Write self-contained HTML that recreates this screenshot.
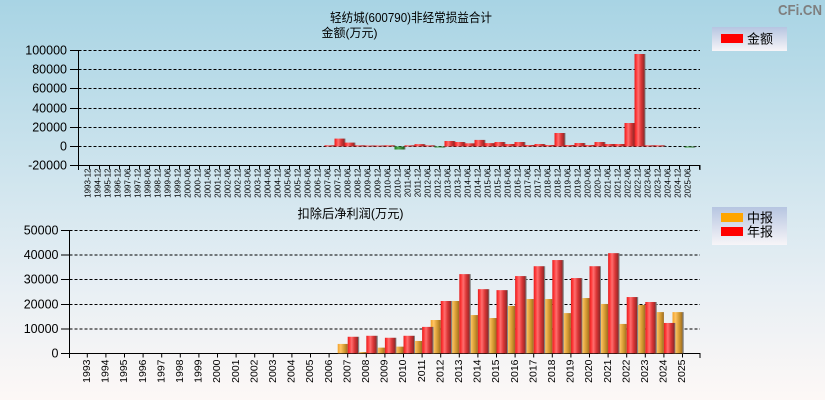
<!DOCTYPE html>
<html><head><meta charset="utf-8"><style>
html,body{margin:0;padding:0;width:825px;height:400px;overflow:hidden}
svg{display:block;font-family:"Liberation Sans","Noto Sans CJK SC",sans-serif}
.t8 text{font-size:8px;fill:#000}
.t10 text{font-size:10.5px;fill:#000}
</style></head><body>
<svg width="825" height="400" viewBox="0 0 825 400" xmlns="http://www.w3.org/2000/svg">
<defs>
<linearGradient id="bg" x1="0" y1="0" x2="0" y2="1">
<stop offset="0" stop-color="#a8d4e4"/><stop offset="0.45" stop-color="#d0e5ee"/><stop offset="0.72" stop-color="#e8eff4"/><stop offset="1" stop-color="#fdf8f6"/>
</linearGradient>
<linearGradient id="lg" x1="0" y1="0" x2="0" y2="1">
<stop offset="0" stop-color="#b6c5e1"/><stop offset="1" stop-color="#f7f5f8"/>
</linearGradient>
<linearGradient id="rd" x1="0" y1="0" x2="1" y2="0">
<stop offset="0" stop-color="#e02222"/><stop offset="0.14" stop-color="#ff3434"/><stop offset="0.34" stop-color="#ff6e6e"/><stop offset="0.6" stop-color="#dc3636"/><stop offset="0.9" stop-color="#902828"/><stop offset="0.91" stop-color="#7c7c7c"/><stop offset="1" stop-color="#8c8c8c"/>
</linearGradient>
<linearGradient id="or" x1="0" y1="0" x2="1" y2="0">
<stop offset="0" stop-color="#f2a22a"/><stop offset="0.3" stop-color="#ffc462"/><stop offset="0.7" stop-color="#d0962e"/><stop offset="1" stop-color="#9c6c22"/>
</linearGradient>
<linearGradient id="gr" x1="0" y1="0" x2="1" y2="0">
<stop offset="0" stop-color="#1c7a1c"/><stop offset="0.35" stop-color="#52b252"/><stop offset="0.9" stop-color="#1e5e1e"/><stop offset="0.91" stop-color="#7c7c7c"/><stop offset="1" stop-color="#8c8c8c"/>
</linearGradient>
</defs>
<rect x="0" y="0" width="825" height="400" fill="url(#bg)"/>

<text x="822" y="15" text-anchor="end" font-size="15" font-weight="bold" fill="#7f7f7f" textLength="44" lengthAdjust="spacingAndGlyphs">CFi.CN</text>

<!-- ===== TOP CHART ===== -->
<text x="330" y="22" font-size="12.5" fill="#000" textLength="162" lengthAdjust="spacingAndGlyphs">轻纺城(600790)非经常损益合计</text>
<text x="321.5" y="37" font-size="12" fill="#000">金额(万元)</text>

<g stroke="#000" stroke-width="1" stroke-dasharray="3 2" fill="none">
<line x1="78.5" y1="50.5" x2="700" y2="50.5"/>
<line x1="78.5" y1="69.5" x2="700" y2="69.5"/>
<line x1="78.5" y1="88.5" x2="700" y2="88.5"/>
<line x1="78.5" y1="108.5" x2="700" y2="108.5"/>
<line x1="78.5" y1="127.5" x2="700" y2="127.5"/>
<line x1="78.5" y1="146.5" x2="700" y2="146.5"/>
</g>
<g stroke="#000" stroke-width="1" fill="none">
<line x1="78.5" y1="50" x2="78.5" y2="166"/>
<line x1="78" y1="165.5" x2="700.5" y2="165.5"/>
<path d="M70 50.5H78.5M70 69.5H78.5M70 88.5H78.5M70 108.5H78.5M70 127.5H78.5M70 146.5H78.5M70 165.5H78.5M78.5 165.5V170M700 165.5V170"/>
<line x1="89" y1="167.5" x2="700" y2="167.5" stroke-width="4" stroke-dasharray="1 9"/>
</g>
<g font-size="12.5" fill="#000" text-anchor="end">
<text x="67" y="54.5">100000</text>
<text x="67" y="73.5">80000</text>
<text x="67" y="92.5">60000</text>
<text x="67" y="112.5">40000</text>
<text x="67" y="131.5">20000</text>
<text x="67" y="150.5">0</text>
<text x="67" y="169.5">-20000</text>
</g>

<g fill="url(#rd)">
<rect x="324.5" y="145.3" width="11" height="1.2"/>
<rect x="334.5" y="138.6" width="11" height="7.9"/>
<rect x="344.5" y="142.6" width="11" height="3.9"/>
<rect x="354.5" y="145.3" width="11" height="1.2"/>
<rect x="364.5" y="145.5" width="11" height="1"/>
<rect x="374.5" y="145.5" width="11" height="1"/>
<rect x="384.5" y="145.3" width="11" height="1.2"/>
<rect x="404.5" y="145.3" width="11" height="1.2"/>
<rect x="414.5" y="144.1" width="11" height="2.4"/>
<rect x="424.5" y="145.3" width="11" height="1.2"/>
<rect x="444.5" y="141" width="11" height="5.5"/>
<rect x="454.5" y="142" width="11" height="4.5"/>
<rect x="464.5" y="143.3" width="11" height="3.2"/>
<rect x="474.5" y="139.9" width="11" height="6.6"/>
<rect x="484.5" y="143.1" width="11" height="3.4"/>
<rect x="494.5" y="142" width="11" height="4.5"/>
<rect x="504.5" y="144" width="11" height="2.5"/>
<rect x="514.5" y="142" width="11" height="4.5"/>
<rect x="524.5" y="145" width="11" height="1.5"/>
<rect x="534.5" y="144" width="11" height="2.5"/>
<rect x="544.5" y="145" width="11" height="1.5"/>
<rect x="554.5" y="133" width="11" height="13.5"/>
<rect x="564.5" y="145" width="11" height="1.5"/>
<rect x="574.5" y="143" width="11" height="3.5"/>
<rect x="584.5" y="145" width="11" height="1.5"/>
<rect x="594.5" y="142" width="11" height="4.5"/>
<rect x="604.5" y="144" width="11" height="2.5"/>
<rect x="614.5" y="144" width="11" height="2.5"/>
<rect x="624.5" y="123" width="11" height="23.5"/>
<rect x="634.5" y="54" width="11" height="92.5"/>
<rect x="644.5" y="145.3" width="11" height="1.2"/>
<rect x="654.5" y="145.3" width="11" height="1.2"/>
</g>
<g fill="url(#gr)">
<rect x="394.5" y="146.5" width="11" height="3"/>
<rect x="434.5" y="146.5" width="11" height="1"/>
<rect x="684.5" y="146.5" width="11" height="1"/>
</g>

<g class="t8" text-anchor="end">
<text transform="translate(90.5,168.5) rotate(-90)">1993-12</text>
<text transform="translate(100.5,168.5) rotate(-90)">1994-12</text>
<text transform="translate(110.5,168.5) rotate(-90)">1995-12</text>
<text transform="translate(120.5,168.5) rotate(-90)">1996-12</text>
<text transform="translate(130.5,168.5) rotate(-90)">1997-06</text>
<text transform="translate(140.5,168.5) rotate(-90)">1997-12</text>
<text transform="translate(150.5,168.5) rotate(-90)">1998-06</text>
<text transform="translate(160.5,168.5) rotate(-90)">1998-12</text>
<text transform="translate(170.5,168.5) rotate(-90)">1999-06</text>
<text transform="translate(180.5,168.5) rotate(-90)">1999-12</text>
<text transform="translate(190.5,168.5) rotate(-90)">2000-06</text>
<text transform="translate(200.5,168.5) rotate(-90)">2000-12</text>
<text transform="translate(210.5,168.5) rotate(-90)">2001-06</text>
<text transform="translate(220.5,168.5) rotate(-90)">2001-12</text>
<text transform="translate(230.5,168.5) rotate(-90)">2002-06</text>
<text transform="translate(240.5,168.5) rotate(-90)">2002-12</text>
<text transform="translate(250.5,168.5) rotate(-90)">2003-06</text>
<text transform="translate(260.5,168.5) rotate(-90)">2003-12</text>
<text transform="translate(270.5,168.5) rotate(-90)">2004-06</text>
<text transform="translate(280.5,168.5) rotate(-90)">2004-12</text>
<text transform="translate(290.5,168.5) rotate(-90)">2005-06</text>
<text transform="translate(300.5,168.5) rotate(-90)">2005-12</text>
<text transform="translate(310.5,168.5) rotate(-90)">2006-06</text>
<text transform="translate(320.5,168.5) rotate(-90)">2006-12</text>
<text transform="translate(330.5,168.5) rotate(-90)">2007-06</text>
<text transform="translate(340.5,168.5) rotate(-90)">2007-12</text>
<text transform="translate(350.5,168.5) rotate(-90)">2008-06</text>
<text transform="translate(360.5,168.5) rotate(-90)">2008-12</text>
<text transform="translate(370.5,168.5) rotate(-90)">2009-06</text>
<text transform="translate(380.5,168.5) rotate(-90)">2009-12</text>
<text transform="translate(390.5,168.5) rotate(-90)">2010-06</text>
<text transform="translate(400.5,168.5) rotate(-90)">2010-12</text>
<text transform="translate(410.5,168.5) rotate(-90)">2011-06</text>
<text transform="translate(420.5,168.5) rotate(-90)">2011-12</text>
<text transform="translate(430.5,168.5) rotate(-90)">2012-06</text>
<text transform="translate(440.5,168.5) rotate(-90)">2012-12</text>
<text transform="translate(450.5,168.5) rotate(-90)">2013-06</text>
<text transform="translate(460.5,168.5) rotate(-90)">2013-12</text>
<text transform="translate(470.5,168.5) rotate(-90)">2014-06</text>
<text transform="translate(480.5,168.5) rotate(-90)">2014-12</text>
<text transform="translate(490.5,168.5) rotate(-90)">2015-06</text>
<text transform="translate(500.5,168.5) rotate(-90)">2015-12</text>
<text transform="translate(510.5,168.5) rotate(-90)">2016-06</text>
<text transform="translate(520.5,168.5) rotate(-90)">2016-12</text>
<text transform="translate(530.5,168.5) rotate(-90)">2017-06</text>
<text transform="translate(540.5,168.5) rotate(-90)">2017-12</text>
<text transform="translate(550.5,168.5) rotate(-90)">2018-06</text>
<text transform="translate(560.5,168.5) rotate(-90)">2018-12</text>
<text transform="translate(570.5,168.5) rotate(-90)">2019-06</text>
<text transform="translate(580.5,168.5) rotate(-90)">2019-12</text>
<text transform="translate(590.5,168.5) rotate(-90)">2020-06</text>
<text transform="translate(600.5,168.5) rotate(-90)">2020-12</text>
<text transform="translate(610.5,168.5) rotate(-90)">2021-06</text>
<text transform="translate(620.5,168.5) rotate(-90)">2021-12</text>
<text transform="translate(630.5,168.5) rotate(-90)">2022-06</text>
<text transform="translate(640.5,168.5) rotate(-90)">2022-12</text>
<text transform="translate(650.5,168.5) rotate(-90)">2023-06</text>
<text transform="translate(660.5,168.5) rotate(-90)">2023-12</text>
<text transform="translate(670.5,168.5) rotate(-90)">2024-06</text>
<text transform="translate(680.5,168.5) rotate(-90)">2024-12</text>
<text transform="translate(690.5,168.5) rotate(-90)">2025-06</text>
</g>

<!-- legend top -->
<rect x="712" y="27" width="75" height="24" fill="url(#lg)"/>
<rect x="721" y="34" width="22" height="9" fill="#ff0000"/>
<text x="747" y="43.5" font-size="13" fill="#000">金额</text>

<!-- ===== BOTTOM CHART ===== -->
<text x="297.5" y="218" font-size="12.5" fill="#000" textLength="106" lengthAdjust="spacingAndGlyphs">扣除后净利润(万元)</text>

<g stroke="#000" stroke-width="1" stroke-dasharray="3 2" fill="none">
<line x1="69.5" y1="230.5" x2="700" y2="230.5"/>
<line x1="69.5" y1="255" x2="700" y2="255"/>
<line x1="69.5" y1="279.5" x2="700" y2="279.5"/>
<line x1="69.5" y1="304.5" x2="700" y2="304.5"/>
<line x1="69.5" y1="329" x2="700" y2="329"/>
</g>
<g stroke="#000" stroke-width="1" fill="none">
<line x1="69.5" y1="230" x2="69.5" y2="354"/>
<line x1="69" y1="353.5" x2="700.5" y2="353.5"/>
<path d="M61 230.5H69.5M61 255H69.5M61 279.5H69.5M61 304.5H69.5M61 329H69.5M61 353.5H69.5M69.5 353.5V358M700 353.5V358"/>
<line x1="86.8" y1="355.5" x2="690" y2="355.5" stroke-width="4" stroke-dasharray="1 17.6"/>
</g>
<g font-size="12.5" fill="#000" text-anchor="end">
<text x="58.5" y="234.5">50000</text>
<text x="58.5" y="259">40000</text>
<text x="58.5" y="283.5">30000</text>
<text x="58.5" y="308.5">20000</text>
<text x="58.5" y="333">10000</text>
<text x="58.5" y="357.5">0</text>
</g>

<g fill="url(#or)">
<rect x="337.7" y="343.93" width="10" height="9.37"/>
<rect x="356.3" y="352.07" width="10" height="1.23"/>
<rect x="374.9" y="347.63" width="10" height="5.67"/>
<rect x="393.5" y="346.64" width="10" height="6.66"/>
<rect x="412.1" y="340.96" width="10" height="12.34"/>
<rect x="430.7" y="320" width="10" height="33.3"/>
<rect x="449.3" y="301" width="10" height="52.3"/>
<rect x="467.9" y="315.06" width="10" height="38.24"/>
<rect x="486.5" y="318.02" width="10" height="35.28"/>
<rect x="505.1" y="305.93" width="10" height="47.37"/>
<rect x="523.7" y="299.03" width="10" height="54.27"/>
<rect x="542.3" y="299.03" width="10" height="54.27"/>
<rect x="560.9" y="313.09" width="10" height="40.21"/>
<rect x="579.5" y="298.04" width="10" height="55.26"/>
<rect x="598.1" y="303.96" width="10" height="49.34"/>
<rect x="616.7" y="323.94" width="10" height="29.36"/>
<rect x="635.3" y="304.95" width="10" height="48.35"/>
<rect x="653.9" y="312.1" width="10" height="41.2"/>
<rect x="672.5" y="312.1" width="10" height="41.2"/>
</g>
<rect x="682.5" y="312.1" width="1.2" height="41.2" fill="#808080"/>
<g fill="url(#rd)">
<rect x="347.7" y="336.77" width="11.5" height="16.53"/>
<rect x="366.3" y="335.78" width="11.5" height="17.52"/>
<rect x="384.9" y="337.76" width="11.5" height="15.54"/>
<rect x="403.5" y="335.78" width="11.5" height="17.52"/>
<rect x="422.1" y="326.9" width="11.5" height="26.4"/>
<rect x="440.7" y="301" width="11.5" height="52.3"/>
<rect x="459.3" y="274.11" width="11.5" height="79.19"/>
<rect x="477.9" y="289.16" width="11.5" height="64.14"/>
<rect x="496.5" y="290.14" width="11.5" height="63.16"/>
<rect x="515.1" y="276.08" width="11.5" height="77.22"/>
<rect x="533.7" y="266.21" width="11.5" height="87.09"/>
<rect x="552.3" y="260.05" width="11.5" height="93.25"/>
<rect x="570.9" y="278.06" width="11.5" height="75.24"/>
<rect x="589.5" y="266.21" width="11.5" height="87.09"/>
<rect x="608.1" y="253.14" width="11.5" height="100.16"/>
<rect x="626.7" y="297.05" width="11.5" height="56.25"/>
<rect x="645.3" y="301.99" width="11.5" height="51.31"/>
<rect x="663.9" y="322.96" width="11.5" height="30.34"/>
</g>

<g class="t10" text-anchor="end">
<text transform="translate(90,359.5) rotate(-90)">1993</text>
<text transform="translate(108.55,359.5) rotate(-90)">1994</text>
<text transform="translate(127.15,359.5) rotate(-90)">1995</text>
<text transform="translate(145.75,359.5) rotate(-90)">1996</text>
<text transform="translate(164.35,359.5) rotate(-90)">1997</text>
<text transform="translate(182.95,359.5) rotate(-90)">1998</text>
<text transform="translate(201.55,359.5) rotate(-90)">1999</text>
<text transform="translate(220.15,359.5) rotate(-90)">2000</text>
<text transform="translate(238.75,359.5) rotate(-90)">2001</text>
<text transform="translate(257.35,359.5) rotate(-90)">2002</text>
<text transform="translate(275.95,359.5) rotate(-90)">2003</text>
<text transform="translate(294.55,359.5) rotate(-90)">2004</text>
<text transform="translate(313.15,359.5) rotate(-90)">2005</text>
<text transform="translate(331.75,359.5) rotate(-90)">2006</text>
<text transform="translate(350.35,359.5) rotate(-90)">2007</text>
<text transform="translate(368.95,359.5) rotate(-90)">2008</text>
<text transform="translate(387.55,359.5) rotate(-90)">2009</text>
<text transform="translate(406.15,359.5) rotate(-90)">2010</text>
<text transform="translate(424.75,359.5) rotate(-90)">2011</text>
<text transform="translate(443.35,359.5) rotate(-90)">2012</text>
<text transform="translate(461.95,359.5) rotate(-90)">2013</text>
<text transform="translate(480.55,359.5) rotate(-90)">2014</text>
<text transform="translate(499.15,359.5) rotate(-90)">2015</text>
<text transform="translate(517.75,359.5) rotate(-90)">2016</text>
<text transform="translate(536.35,359.5) rotate(-90)">2017</text>
<text transform="translate(554.95,359.5) rotate(-90)">2018</text>
<text transform="translate(573.55,359.5) rotate(-90)">2019</text>
<text transform="translate(592.15,359.5) rotate(-90)">2020</text>
<text transform="translate(610.75,359.5) rotate(-90)">2021</text>
<text transform="translate(629.35,359.5) rotate(-90)">2022</text>
<text transform="translate(647.95,359.5) rotate(-90)">2023</text>
<text transform="translate(666.55,359.5) rotate(-90)">2024</text>
<text transform="translate(685.15,359.5) rotate(-90)">2025</text>
</g>

<!-- legend bottom -->
<rect x="712" y="207" width="75" height="38" fill="url(#lg)"/>
<rect x="721" y="213" width="22" height="9" fill="#ffa500"/>
<rect x="721" y="227" width="22" height="9" fill="#ff0000"/>
<text x="747" y="222.5" font-size="13" fill="#000">中报</text>
<text x="747" y="236.5" font-size="13" fill="#000">年报</text>
</svg>
</body></html>
